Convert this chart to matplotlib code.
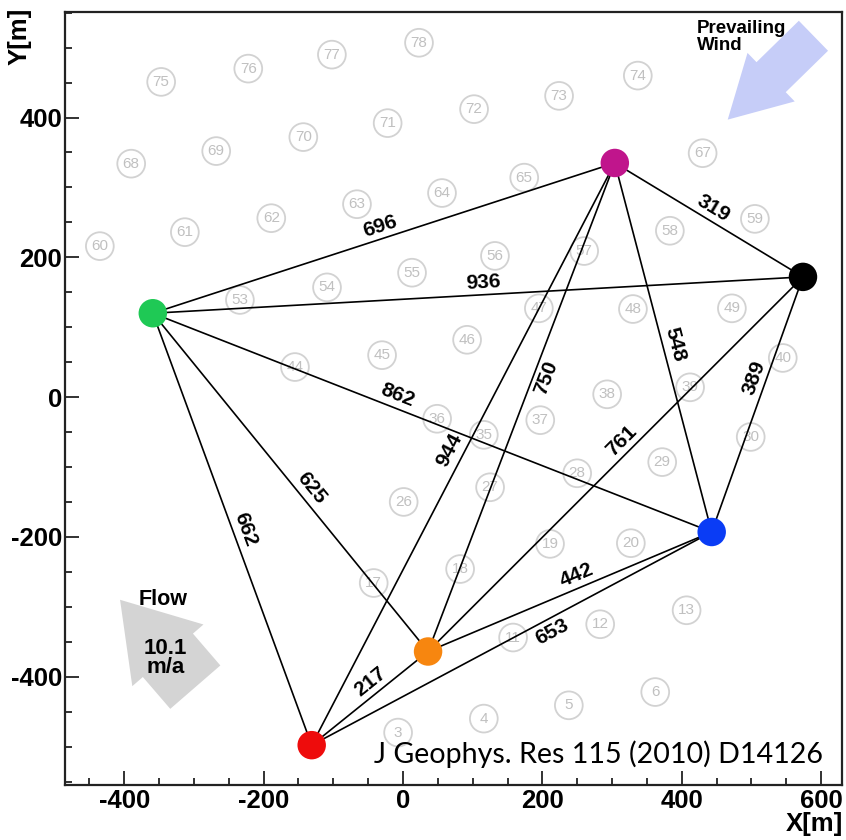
import numpy as np
import matplotlib
matplotlib.use("Agg")
import matplotlib.pyplot as plt
from matplotlib.patches import FancyArrow
from matplotlib.ticker import MultipleLocator

plt.rcParams['font.family'] = ['Liberation Sans', 'DejaVu Sans']
plt.rcParams['axes.unicode_minus'] = False

# =========================
# DATA
# =========================
# detector stations (x, y in metres)
station_names = ["green", "magenta", "black", "blue", "orange", "red"]
station_x = [-359, 304, 574, 443, 36, -131]
station_y = [120, 335, 172, -193, -364, -498]
station_colors = ["#1fc955", "#c0158c", "#000000", "#0a3cf5", "#f7860f", "#ee0c0c"]

# baselines between stations and their printed lengths (m)
edge_from = ["green", "magenta", "green", "magenta", "black", "green", "green",
             "green", "magenta", "magenta", "black", "orange", "red", "red"]
edge_to = ["magenta", "black", "black", "blue", "blue", "blue", "orange",
           "red", "orange", "red", "orange", "blue", "blue", "orange"]
edge_length = [696, 319, 936, 548, 389, 862, 625, 662, 750, 944, 761, 442, 653, 217]
# where the label sits along each baseline, and on which side
label_frac = [0.50, 0.49, 0.51, 0.50, 0.41, 0.43, 0.54, 0.51, 0.43, 0.505, 0.46, 0.54, 0.585, 0.57]
label_side = [1, 1, 1, 1, 1, 1, 1, 1, -1, 1.15, 1, 1, -1, 1]

# background array grid (numbered positions)
grid_num = [3, 4, 5, 6, 11, 12, 13, 17, 18, 19, 20, 26, 27, 28, 29, 30,
            35, 36, 37, 38, 39, 40, 44, 45, 46, 47, 48, 49,
            53, 54, 55, 56, 57, 58, 59, 60, 61, 62, 63, 64, 65, 67,
            68, 69, 70, 71, 72, 73, 74, 75, 76, 77, 78]
grid_x = [-7, 116, 238, 362, 158, 283, 407, -42, 82, 211, 327, 1, 125, 250, 372, 499,
          116, 49, 197, 293, 412, 545, -155, -30, 92, 195, 330, 472,
          -234, -109, 13, 132, 260, 383, 505, -435, -313, -189, -66, 56, 174, 430,
          -390, -268, -143, -22, 102, 224, 337, -347, -222, -102, 23]
grid_y = [-480, -460, -441, -422, -344, -325, -305, -266, -246, -210, -209, -150, -129, -109, -93, -57,
          -54, -31, -33, 4, 14, 56, 43, 60, 82, 127, 126, 127,
          139, 157, 178, 202, 209, 238, 255, 216, 236, 256, 276, 292, 314, 349,
          334, 352, 372, 392, 412, 431, 460, 451, 470, 490, 507]

# =========================
# FIGURE
# =========================
fig = plt.figure(figsize=(8.46, 8.40), dpi=100)
ax = fig.add_axes([65 / 846, 55 / 840, 777 / 846, 773 / 840])
ax.set_xlim(-485, 630)
ax.set_ylim(-555, 551)

for s in ax.spines.values():
    s.set_linewidth(1.6)
    s.set_color("#222222")

ax.xaxis.set_major_locator(MultipleLocator(200))
ax.xaxis.set_minor_locator(MultipleLocator(50))
ax.yaxis.set_major_locator(MultipleLocator(200))
ax.yaxis.set_minor_locator(MultipleLocator(50))
ax.tick_params(which="both", direction="in", top=False, right=False, width=1.3, color="#222222")
ax.tick_params(which="major", length=10)
ax.tick_params(which="minor", length=5)
ax.tick_params(axis="x", pad=3, labelsize=18.5)
ax.tick_params(axis="y", pad=2, labelsize=18.5)
for lab in ax.get_xticklabels() + ax.get_yticklabels():
    lab.set_fontweight("bold")

fig.text(843 / 846, 9 / 840, "X[m]", ha="right", va="baseline", fontsize=18.5, fontweight="bold")
fig.text(20 / 846, 1 - 8 / 840, "Y[m]", ha="center", va="top", rotation=90, fontsize=18.5, fontweight="bold")

# background grid circles
ax.scatter(grid_x, grid_y, s=400, facecolors="none", edgecolors="#d2d2d2", linewidths=1.3, zorder=1)
for n, gx, gy in zip(grid_num, grid_x, grid_y):
    ax.text(gx, gy, str(n), ha="center", va="center", fontsize=11, color="#c0c0c0", zorder=1)

# baselines
pos = {n: (x, y) for n, x, y in zip(station_names, station_x, station_y)}
for a, b, length, t, side in zip(edge_from, edge_to, edge_length, label_frac, label_side):
    (x0, y0), (x1, y1) = pos[a], pos[b]
    ax.plot([x0, x1], [y0, y1], color="black", lw=1.2, zorder=2)
    p0 = ax.transData.transform((x0, y0))
    p1 = ax.transData.transform((x1, y1))
    ang = np.degrees(np.arctan2(p1[1] - p0[1], p1[0] - p0[0]))
    if ang > 90:
        ang -= 180
    elif ang <= -90:
        ang += 180
    nx, ny = -np.sin(np.radians(ang)), np.cos(np.radians(ang))
    off = 9 * side
    ax.annotate(str(length), xy=(x0 + t * (x1 - x0), y0 + t * (y1 - y0)),
                xytext=(nx * off, ny * off), textcoords="offset points",
                rotation=ang, rotation_mode="anchor", ha="center", va="center",
                fontsize=15, fontweight="bold", zorder=4)

# stations
ax.scatter(station_x, station_y, s=420, c=station_colors, edgecolors="none", zorder=3)

# prevailing wind arrow
ax.add_patch(FancyArrow(589, 517, -123, -120, width=60, head_width=97, head_length=87,
                        length_includes_head=True, color="#c6cdf8", lw=0, zorder=1))
ax.text(422, 540, "Prevailing\nWind", ha="left", va="top", fontsize=13.5,
        fontweight="bold", linespacing=1.05, zorder=4)

# ice flow arrow
ax.add_patch(FancyArrow(-298, -415, -108, 125, width=95, head_width=135, head_length=105,
                        length_includes_head=True, color="#d4d4d4", lw=0, zorder=1))
ax.text(-344, -290, "Flow", ha="center", va="center", fontsize=15.5, fontweight="bold", zorder=4)
ax.text(-341, -373, "10.1\nm/a", ha="center", va="center", fontsize=16, fontweight="bold",
        linespacing=0.9, zorder=4)

ax.text(0.9755, 0.0285, "J Geophys. Res 115 (2010) D14126", transform=ax.transAxes,
        ha="right", va="baseline", fontsize=20.6, family=["Lato", "DejaVu Sans"], zorder=5)

fig.savefig("out.png", dpi=100)
